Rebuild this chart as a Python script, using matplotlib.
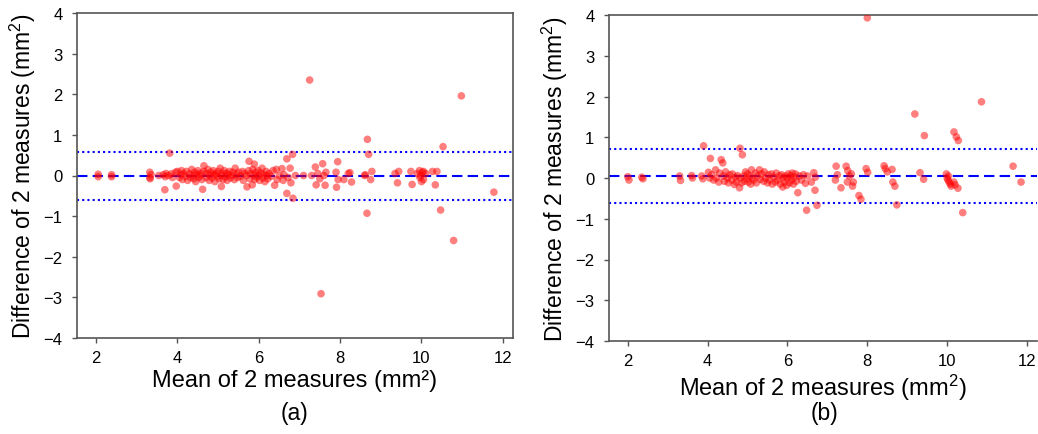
import matplotlib
matplotlib.use("Agg")
import matplotlib.pyplot as plt

plt.rcParams['font.family'] = ['Liberation Sans', 'DejaVu Sans']
plt.rcParams['mathtext.fontset'] = 'custom'
plt.rcParams['mathtext.rm'] = 'Liberation Sans'
plt.rcParams['mathtext.it'] = 'Liberation Sans:italic'
plt.rcParams['mathtext.bf'] = 'Liberation Sans:bold'

# ---------------- data: panel (a) ----------------
a_x = [2.05, 2.05, 2.38, 2.38,
       3.32, 3.32, 3.35, 3.33, 3.54, 3.65, 3.70, 3.72, 3.69, 3.81, 3.78, 3.85, 3.88, 3.97, 3.95,
       4.00, 4.05, 4.08, 4.10, 4.12, 4.15, 4.20, 4.22, 4.25, 4.30, 4.32, 4.35, 4.38, 4.40, 4.42,
       4.45, 4.48, 4.50, 4.52, 4.55, 4.58, 4.60, 4.62, 4.65, 4.65,
       4.70, 4.72, 4.75, 4.78, 4.80, 4.82, 4.85, 4.88, 4.90, 4.92, 4.95, 4.98, 5.00, 5.02, 5.05,
       5.08, 5.08, 5.10, 5.12, 5.15, 5.18, 5.20, 5.22, 5.25, 5.28, 5.30, 5.33, 5.36, 5.40, 5.42,
       5.45, 5.48, 5.50,
       5.55, 5.60, 5.62, 5.65, 5.70, 5.71, 5.75, 5.76, 5.78, 5.80, 5.84, 5.85, 5.88, 5.89, 5.90,
       5.92, 5.95, 5.98, 6.00, 6.02, 6.05, 6.08, 6.10, 6.12, 6.15, 6.18, 6.20, 6.22, 6.25, 6.30,
       6.35, 6.39, 6.43, 6.45, 6.50, 6.57, 6.60, 6.62, 6.69, 6.69, 6.72, 6.77, 6.79, 6.83, 6.84, 6.90,
       7.10, 7.25, 7.30, 7.39, 7.41, 7.45, 7.50, 7.53, 7.57, 7.60, 7.63, 7.65, 7.90, 7.91, 7.94, 7.95,
       8.09, 8.20, 8.24, 8.28, 8.60, 8.62, 8.66, 8.67, 8.70, 8.75, 8.78,
       9.35, 9.41, 9.44, 9.74, 9.77, 9.90, 9.95, 9.96, 9.98, 10.00, 10.02, 10.05, 10.05, 10.10,
       10.27, 10.34, 10.38, 10.47, 10.53, 10.79, 10.98, 11.78]
a_y = [0.03, -0.03, 0.02, -0.03,
       0.08, -0.05, 0.02, -0.08, 0.00, 0.02, -0.03, 0.05, -0.35, 0.55, 0.00, 0.04, -0.05, -0.26, 0.08,
       0.10, -0.05, 0.02, 0.12, -0.10, 0.05, -0.02, 0.10, -0.12, 0.04, -0.05, 0.15, 0.00, -0.08, 0.08,
       -0.15, 0.03, 0.12, -0.05, 0.00, 0.06, -0.10, -0.34, 0.24, 0.10,
       -0.05, 0.05, 0.15, -0.12, 0.00, 0.08, -0.06, 0.12, 0.02, -0.15, 0.05, -0.02, 0.10, -0.08, 0.18,
       -0.27, 0.00, 0.05, -0.10, 0.12, -0.03, 0.06, -0.12, 0.02, 0.10, -0.06, 0.00, 0.08, -0.10, 0.18,
       0.03, -0.05, 0.08,
       -0.02, 0.10, -0.12, 0.05, 0.00, -0.28, 0.12, 0.35, -0.08, 0.04, -0.23, 0.15, 0.00, 0.28, -0.10,
       0.08, -0.04, 0.12, 0.00, -0.12, 0.06, 0.18, -0.06, 0.02, -0.15, 0.10, 0.00, -0.08, 0.05, -0.02,
       0.12, -0.24, 0.15, -0.10, 0.00, 0.17, -0.12, 0.02, 0.41, -0.44, -0.05, 0.18, -0.18, 0.52, -0.56, 0.00,
       0.00, 2.35, 0.00, 0.21, -0.23, 0.05, -0.08, -2.91, 0.29, 0.00, -0.24, 0.08, 0.08, -0.29, 0.34, -0.10,
       -0.10, 0.05, 0.07, -0.16, 0.00, 0.02, -0.93, 0.89, 0.52, -0.10, 0.10,
       0.05, -0.18, 0.10, 0.10, -0.22, 0.05, 0.12, -0.05, 0.00, -0.15, 0.08, -0.10, 0.10, 0.05,
       0.10, -0.23, 0.10, -0.85, 0.71, -1.60, 1.96, -0.41]
a_mean = 0.0
a_upper = 0.59
a_lower = -0.61

# ---------------- data: panel (b) ----------------
b_x = [2.00, 2.03, 2.35, 2.38,
       3.30, 3.32, 3.60, 3.62, 3.88, 3.90, 3.85, 4.02, 4.05, 4.07,
       4.10, 4.15, 4.20, 4.22, 4.28, 4.30, 4.34, 4.38, 4.40, 4.42, 4.45, 4.50, 4.52, 4.55, 4.60,
       4.62, 4.67, 4.70, 4.72, 4.75, 4.80, 4.81, 4.82, 4.85, 4.87, 4.90, 4.92, 4.95, 4.98,
       5.00, 5.02, 5.05, 5.08, 5.10, 5.12, 5.15, 5.20, 5.22, 5.25, 5.30, 5.32, 5.35, 5.40, 5.42,
       5.45, 5.50, 5.52, 5.55, 5.60, 5.62, 5.65, 5.70, 5.72, 5.75, 5.80, 5.82, 5.85, 5.88, 5.90,
       5.92, 5.95, 5.98,
       6.00, 6.02, 6.05, 6.08, 6.10, 6.12, 6.15, 6.18, 6.20, 6.22, 6.26, 6.30, 6.35, 6.40, 6.45,
       6.48, 6.50, 6.60, 6.66, 6.69, 6.70, 6.74,
       7.20, 7.22, 7.25, 7.34, 7.47, 7.50, 7.51, 7.55, 7.60, 7.63, 7.65, 7.79, 7.84, 7.97, 8.00,
       8.01, 8.42, 8.45, 8.50, 8.62, 8.64, 8.69, 8.74,
       9.19, 9.32, 9.41, 9.43, 9.98, 10.00, 10.02, 10.05, 10.08, 10.10, 10.03, 10.17, 10.17, 10.20,
       10.23, 10.27, 10.28, 10.39, 10.86, 11.65, 11.85]
b_y = [0.03, -0.05, 0.02, -0.02,
       0.05, -0.06, 0.06, 0.00, -0.02, 0.79, 0.05, 0.14, 0.00, 0.48,
       0.08, -0.05, 0.20, 0.00, -0.10, 0.12, 0.45, 0.37, 0.05, -0.08, 0.15, 0.00, -0.12, 0.08, -0.05,
       0.10, -0.16, 0.02, -0.10, 0.06, -0.24, 0.73, 0.00, -0.12, 0.57, 0.05, -0.08, 0.15, -0.02,
       0.10, -0.10, 0.05, -0.15, 0.20, 0.00, -0.05, 0.12, -0.12, 0.05, 0.20, -0.03, 0.10, -0.08, 0.15,
       0.00, -0.12, 0.08, -0.05, 0.10, -0.15, 0.02, -0.10, 0.12, -0.05, 0.05, -0.15, 0.08, -0.22, 0.00,
       -0.10, 0.05, -0.18,
       0.00, 0.10, -0.12, 0.05, -0.05, 0.12, -0.15, 0.02, 0.10, -0.08, -0.36, 0.05, -0.05, 0.08, -0.13,
       -0.79, 0.05, -0.10, 0.13, -0.30, 0.02, -0.67,
       -0.05, 0.29, 0.08, -0.24, 0.29, -0.10, 0.18, 0.05, 0.10, -0.20, -0.10, -0.43, -0.52, 0.23, 3.93,
       0.14, 0.30, 0.23, 0.15, 0.21, -0.10, -0.20, -0.66,
       1.57, 0.13, -0.03, 1.04, 0.10, 0.00, -0.05, -0.10, -0.15, -0.20, 0.05, 1.13, -0.10, -0.17,
       1.01, -0.25, 0.92, -0.85, 1.87, 0.29, -0.10]
b_mean = 0.06
b_upper = 0.71
b_lower = -0.61

y_ticks = [-4, -3, -2, -1, 0, 1, 2, 3, 4]
x_ticks = [2, 4, 6, 8, 10, 12]

W, H = 1038, 435
fig = plt.figure(figsize=(W / 100, H / 100), dpi=100)
ax_a = fig.add_axes([77 / W, (H - 339) / H, 436 / W, 325 / H])
ax_b = fig.add_axes([609 / W, (H - 342) / H, 428 / W, 326 / H])

panels = [
    (ax_a, a_x, a_y, a_mean, a_upper, a_lower, 'Mean of 2 measures (mm²)', '(a)', 295),
    (ax_b, b_x, b_y, b_mean, b_upper, b_lower, r'Mean of 2 measures (mm$^2$)', '(b)', 824),
]

for ax, xs, ys, m, up, lo, xlab, tag, tag_x in panels:
    ax.scatter(xs, ys, s=30, color='red', alpha=0.5, edgecolors='none', zorder=3)
    ax.axhline(m, color='blue', linestyle=(0, (5, 2.5)), linewidth=1.5, zorder=2)
    ax.axhline(up, color='blue', linestyle=(0, (1, 1.5)), linewidth=1.5, zorder=2)
    ax.axhline(lo, color='blue', linestyle=(0, (1, 1.5)), linewidth=1.5, zorder=2)
    ax.set_xlim(1.53, 12.25)
    ax.set_ylim(-4, 4)
    ax.set_xticks(x_ticks)
    ax.set_yticks(y_ticks)
    ax.tick_params(axis='both', direction='out', length=3.5, width=1, color='#555555',
                   labelsize=12, labelcolor='black')
    ax.tick_params(axis='y', pad=7)
    ax.tick_params(axis='x', pad=5)
    for sp in ax.spines.values():
        sp.set_color('#555555')
        sp.set_linewidth(1.2)
    ax.set_xlabel(xlab, fontsize=17, labelpad=3)
    ax.set_ylabel(r'Difference of 2 measures (mm$^2$)', fontsize=16.5, labelpad=4)
    fig.text(tag_x / W, (H - 414) / H, tag, ha='center', va='center', fontsize=16.5)

# the right panel is cropped at the image edge in the reference
ax_b.spines['right'].set_visible(False)

fig.savefig('out.png', dpi=100)
